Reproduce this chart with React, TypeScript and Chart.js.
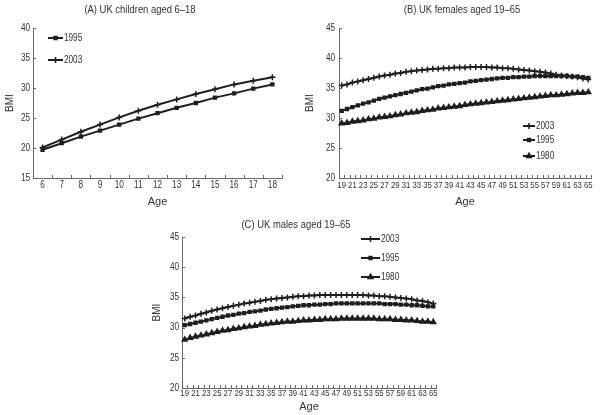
import React, { useEffect, useRef } from 'react';
import { Chart, registerables } from 'chart.js';
import { drawPoint } from 'chart.js/helpers';

Chart.register(...registerables);

const FONT = 'Arial, "Liberation Sans", sans-serif';
const INK = '#1e1e1e';
const TEXT = '#333333';
const AXIS = '#6a6a6a';
const SQUEEZE = 0.82;

// ---------- DATA ----------
const childAges = ['6', '7', '8', '9', '10', '11', '12', '13', '14', '15', '16', '17', '18'];
const child2003 = [20.1, 21.4, 22.7, 23.9, 25.1, 26.2, 27.2, 28.1, 29.0, 29.8, 30.6, 31.2, 31.8];
const child1995 = [19.7, 20.8, 21.9, 22.9, 23.9, 24.9, 25.8, 26.7, 27.5, 28.4, 29.1, 29.9, 30.6];

const adultAges = [
  '19', '20', '21', '22', '23', '24', '25', '26', '27', '28', '29', '30', '31', '32', '33', '34',
  '35', '36', '37', '38', '39', '40', '41', '42', '43', '44', '45', '46', '47', '48', '49', '50',
  '51', '52', '53', '54', '55', '56', '57', '58', '59', '60', '61', '62', '63', '64', '65',
];

const female2003 = [
  35.4, 35.6, 35.9, 36.1, 36.3, 36.5, 36.7, 36.9, 37.1, 37.2, 37.4, 37.5, 37.7, 37.8, 37.9, 38.0,
  38.1, 38.2, 38.2, 38.3, 38.3, 38.4, 38.4, 38.4, 38.5, 38.5, 38.5, 38.5, 38.4, 38.4, 38.3, 38.3,
  38.2, 38.1, 38.0, 37.9, 37.8, 37.7, 37.6, 37.4, 37.2, 37.1, 37.0, 36.9, 36.8, 36.6, 36.4,
];
const female1995 = [
  31.2, 31.5, 31.8, 32.1, 32.4, 32.6, 32.9, 33.2, 33.4, 33.6, 33.8, 34.0, 34.2, 34.4, 34.6, 34.8,
  34.9, 35.1, 35.3, 35.4, 35.6, 35.7, 35.8, 35.9, 36.1, 36.2, 36.3, 36.4, 36.5, 36.6, 36.7, 36.7,
  36.8, 36.8, 36.9, 36.9, 37.0, 37.0, 37.0, 37.0, 37.0, 37.0, 37.0, 36.9, 36.9, 36.8, 36.7,
];
const female1980 = [
  29.1, 29.2, 29.4, 29.5, 29.6, 29.8, 29.9, 30.1, 30.2, 30.3, 30.5, 30.6, 30.8, 30.9, 31.0, 31.2,
  31.3, 31.4, 31.6, 31.7, 31.8, 31.9, 32.0, 32.2, 32.3, 32.4, 32.5, 32.6, 32.7, 32.8, 32.9, 33.0,
  33.1, 33.2, 33.3, 33.4, 33.5, 33.6, 33.7, 33.8, 33.8, 33.9, 34.0, 34.1, 34.2, 34.2, 34.3,
];

const male2003 = [
  31.5, 31.8, 32.0, 32.3, 32.5, 32.8, 33.0, 33.2, 33.4, 33.6, 33.8, 34.0, 34.1, 34.3, 34.4, 34.6,
  34.7, 34.8, 34.9, 35.0, 35.1, 35.2, 35.2, 35.3, 35.3, 35.4, 35.4, 35.4, 35.4, 35.4, 35.4, 35.4,
  35.4, 35.4, 35.3, 35.3, 35.2, 35.2, 35.1, 35.0, 34.9, 34.8, 34.7, 34.5, 34.4, 34.2, 34.0,
];
const male1995 = [
  30.4, 30.6, 30.8, 31.0, 31.2, 31.4, 31.6, 31.8, 32.0, 32.1, 32.3, 32.4, 32.6, 32.7, 32.8, 33.0,
  33.1, 33.2, 33.3, 33.4, 33.5, 33.6, 33.7, 33.7, 33.8, 33.8, 33.9, 33.9, 34.0, 34.0, 34.0, 34.0,
  34.0, 34.0, 34.0, 34.0, 34.0, 33.9, 33.9, 33.9, 33.8, 33.8, 33.7, 33.7, 33.6, 33.5, 33.5,
];
const male1980 = [
  28.0, 28.3, 28.5, 28.7, 28.9, 29.1, 29.3, 29.5, 29.6, 29.8, 29.9, 30.1, 30.2, 30.3, 30.5, 30.6,
  30.7, 30.8, 30.9, 31.0, 31.0, 31.1, 31.2, 31.2, 31.3, 31.3, 31.4, 31.4, 31.4, 31.5, 31.5, 31.5,
  31.5, 31.5, 31.5, 31.5, 31.4, 31.4, 31.4, 31.3, 31.3, 31.2, 31.2, 31.1, 31.0, 31.0, 30.9,
];

const titles = ['(A) UK children aged 6\u201318', '(B) UK females aged 19\u201365', '(C) UK males aged 19\u201365'];
const yTitle = 'BMI';
const xTitle = 'Age';

// ---------- STYLES ----------
const markerStyles: Record<string, { pointStyle: string; radius: number }> = {
  '2003': { pointStyle: 'cross', radius: 3 },
  '1995': { pointStyle: 'rect', radius: 2 },
  '1980': { pointStyle: 'triangle', radius: 2.8 },
};

function makeDataset(label: string, data: number[]) {
  const m = markerStyles[label];
  return {
    label,
    data,
    borderColor: INK,
    backgroundColor: INK,
    borderWidth: 2,
    pointStyle: m.pointStyle,
    pointRadius: m.radius,
    pointBorderWidth: 1.5,
    pointBorderColor: INK,
    pointBackgroundColor: INK,
    tension: 0,
    fill: false,
  };
}

function squeezedText(ctx: CanvasRenderingContext2D, text: string, x: number, y: number, align: CanvasTextAlign, rot = 0) {
  ctx.save();
  ctx.translate(x, y);
  if (rot) ctx.rotate(rot);
  ctx.scale(SQUEEZE, 1);
  ctx.textAlign = align;
  ctx.textBaseline = 'middle';
  ctx.fillText(text, 0, 0);
  ctx.restore();
}

const customLegend = {
  id: 'customLegend',
  afterDraw(chart: any, _args: any, opts: any) {
    if (!opts || !opts.items) return;
    const ctx = chart.ctx;
    ctx.save();
    for (const it of opts.items) {
      const m = markerStyles[it.text];
      ctx.strokeStyle = INK;
      ctx.lineWidth = 2;
      ctx.beginPath();
      ctx.moveTo(it.x, it.y);
      ctx.lineTo(it.x + it.len, it.y);
      ctx.stroke();
      ctx.fillStyle = INK;
      ctx.lineWidth = 1.5;
      drawPoint(ctx, { pointStyle: m.pointStyle, radius: m.radius, borderWidth: 1.5, rotation: 0 } as any, it.x + it.len / 2, it.y);
      ctx.fillStyle = TEXT;
      ctx.font = `10px ${FONT}`;
      squeezedText(ctx, it.text, it.x + it.len + 1, it.y, 'left');
    }
    ctx.restore();
  },
};

// Axis tick marks (inward) and condensed tick labels, positioned from the chart's scales.
const axisDecor = {
  id: 'axisDecor',
  afterDraw(chart: any, _args: any, opts: any) {
    const xs = chart.scales.x;
    const ys = chart.scales.y;
    const ctx = chart.ctx;
    const { left, bottom } = chart.chartArea;
    const n = xs.getLabels().length;
    const step = n > 1 ? xs.getPixelForValue(1) - xs.getPixelForValue(0) : 0;
    ctx.save();
    ctx.strokeStyle = AXIS;
    ctx.lineWidth = 1;
    ctx.beginPath();
    for (let i = 0; i <= n; i++) {
      const px = Math.round(xs.getPixelForValue(0) - step / 2 + i * step) + 0.5;
      ctx.moveTo(px, bottom);
      ctx.lineTo(px, bottom - 3);
    }
    ys.ticks.forEach((_t: any, i: number) => {
      const py = Math.round(ys.getPixelForTick(i)) + 0.5;
      ctx.moveTo(left, py);
      ctx.lineTo(left + 3, py);
    });
    ctx.stroke();

    ctx.fillStyle = TEXT;
    ctx.font = `${opts.xSize}px ${FONT}`;
    xs.ticks.forEach((t: any, i: number) => {
      if (!t.label) return;
      squeezedText(ctx, String(t.label), xs.getPixelForTick(i), bottom + opts.xGap, 'center');
    });
    ctx.font = `${opts.ySize}px ${FONT}`;
    ys.ticks.forEach((t: any, i: number) => {
      squeezedText(ctx, String(t.label), left - opts.yGap, ys.getPixelForTick(i), 'right');
    });
    ctx.restore();
  },
};

interface PanelProps {
  left: number;
  top: number;
  width: number;
  height: number;
  labels: string[];
  datasets: any[];
  yMin: number;
  yMax: number;
  padTop: number;
  padRight: number;
  yW: number;
  xH: number;
  xTitlePad: number;
  yTitlePad: number;
  labelEvery: number;
  xSize: number;
  xGap: number;
  yGap: number;
  legendItems: any[];
}

function Panel(p: PanelProps) {
  const ref = useRef<HTMLCanvasElement | null>(null);
  useEffect(() => {
    if (!ref.current) return;
    const chart = new Chart(ref.current, {
      type: 'line',
      data: { labels: p.labels, datasets: p.datasets },
      plugins: [customLegend, axisDecor],
      options: {
        responsive: false,
        animation: false,
        devicePixelRatio: 1,
        layout: { padding: { top: p.padTop, right: p.padRight, left: 0, bottom: 0 } },
        plugins: {
          legend: { display: false },
          title: { display: false },
          tooltip: { enabled: false },
          customLegend: { items: p.legendItems },
          axisDecor: { xSize: p.xSize, ySize: 10, xGap: p.xGap, yGap: p.yGap },
        } as any,
        scales: {
          x: {
            type: 'category',
            offset: true,
            grid: { display: false, drawTicks: false },
            border: { display: true, color: AXIS, width: 1 },
            ticks: {
              display: false,
              autoSkip: false,
              maxRotation: 0,
              minRotation: 0,
              callback: function (this: any, v: any, i: number) {
                return i % p.labelEvery === 0 ? this.getLabelForValue(v) : '';
              },
            },
            title: {
              display: true,
              text: xTitle,
              color: TEXT,
              font: { size: 11, family: FONT },
              padding: { top: 0, bottom: p.xTitlePad },
            },
            afterFit: (s: any) => {
              s.height = p.xH;
            },
          },
          y: {
            min: p.yMin,
            max: p.yMax,
            ticks: { display: false, stepSize: 5 },
            grid: { display: false, drawTicks: false },
            border: { display: true, color: AXIS, width: 1 },
            title: {
              display: true,
              text: yTitle,
              color: TEXT,
              font: { size: 10, family: FONT },
              padding: { top: p.yTitlePad, bottom: 0 },
            },
            afterFit: (s: any) => {
              s.width = p.yW;
            },
          },
        },
      } as any,
    });
    return () => chart.destroy();
  }, []);
  return (
    <canvas
      ref={ref}
      width={p.width}
      height={p.height}
      style={{ position: 'absolute', left: p.left, top: p.top, width: p.width, height: p.height }}
    />
  );
}

function Title({ text, x, y }: { text: string; x: number; y: number }) {
  return (
    <div
      style={{
        position: 'absolute',
        left: x,
        top: y,
        transform: `translate(-50%, -50%) scaleX(${SQUEEZE})`,
        whiteSpace: 'nowrap',
        font: `11.5px ${FONT}`,
        lineHeight: '14px',
        color: TEXT,
      }}
    >
      {text}
    </div>
  );
}

export default function App() {
  return (
    <div style={{ position: 'absolute', left: 0, top: 0, width: 600, height: 415, background: '#fff', overflow: 'hidden' }}>
      <Panel
        left={0}
        top={0}
        width={300}
        height={212}
        labels={childAges}
        datasets={[makeDataset('2003', child2003), makeDataset('1995', child1995)]}
        yMin={15}
        yMax={40}
        padTop={28}
        padRight={18}
        yW={33}
        xH={34}
        xTitlePad={3}
        yTitlePad={4}
        labelEvery={1}
        xSize={10}
        xGap={7}
        yGap={3}
        legendItems={[
          { text: '1995', x: 48, y: 38, len: 15 },
          { text: '2003', x: 48, y: 60, len: 15 },
        ]}
      />
      <Panel
        left={300}
        top={0}
        width={300}
        height={212}
        labels={adultAges}
        datasets={[makeDataset('2003', female2003), makeDataset('1995', female1995), makeDataset('1980', female1980)]}
        yMin={20}
        yMax={45}
        padTop={28}
        padRight={9}
        yW={39}
        xH={34}
        xTitlePad={3}
        yTitlePad={4}
        labelEvery={2}
        xSize={9.5}
        xGap={7}
        yGap={4}
        legendItems={[
          { text: '2003', x: 223, y: 126, len: 12 },
          { text: '1995', x: 223, y: 140, len: 12 },
          { text: '1980', x: 223, y: 156, len: 12 },
        ]}
      />
      <Panel
        left={145}
        top={210}
        width={300}
        height={205}
        labels={adultAges}
        datasets={[makeDataset('2003', male2003), makeDataset('1995', male1995), makeDataset('1980', male1980)]}
        yMin={20}
        yMax={45}
        padTop={27}
        padRight={9}
        yW={37}
        xH={27}
        xTitlePad={1}
        yTitlePad={6}
        labelEvery={2}
        xSize={9.5}
        xGap={5.5}
        yGap={3}
        legendItems={[
          { text: '2003', x: 216, y: 29, len: 19 },
          { text: '1995', x: 216, y: 48, len: 19 },
          { text: '1980', x: 216, y: 67, len: 19 },
        ]}
      />
      <Title text={titles[0]} x={140} y={9} />
      <Title text={titles[1]} x={462} y={9} />
      <Title text={titles[2]} x={296} y={224} />
    </div>
  );
}
